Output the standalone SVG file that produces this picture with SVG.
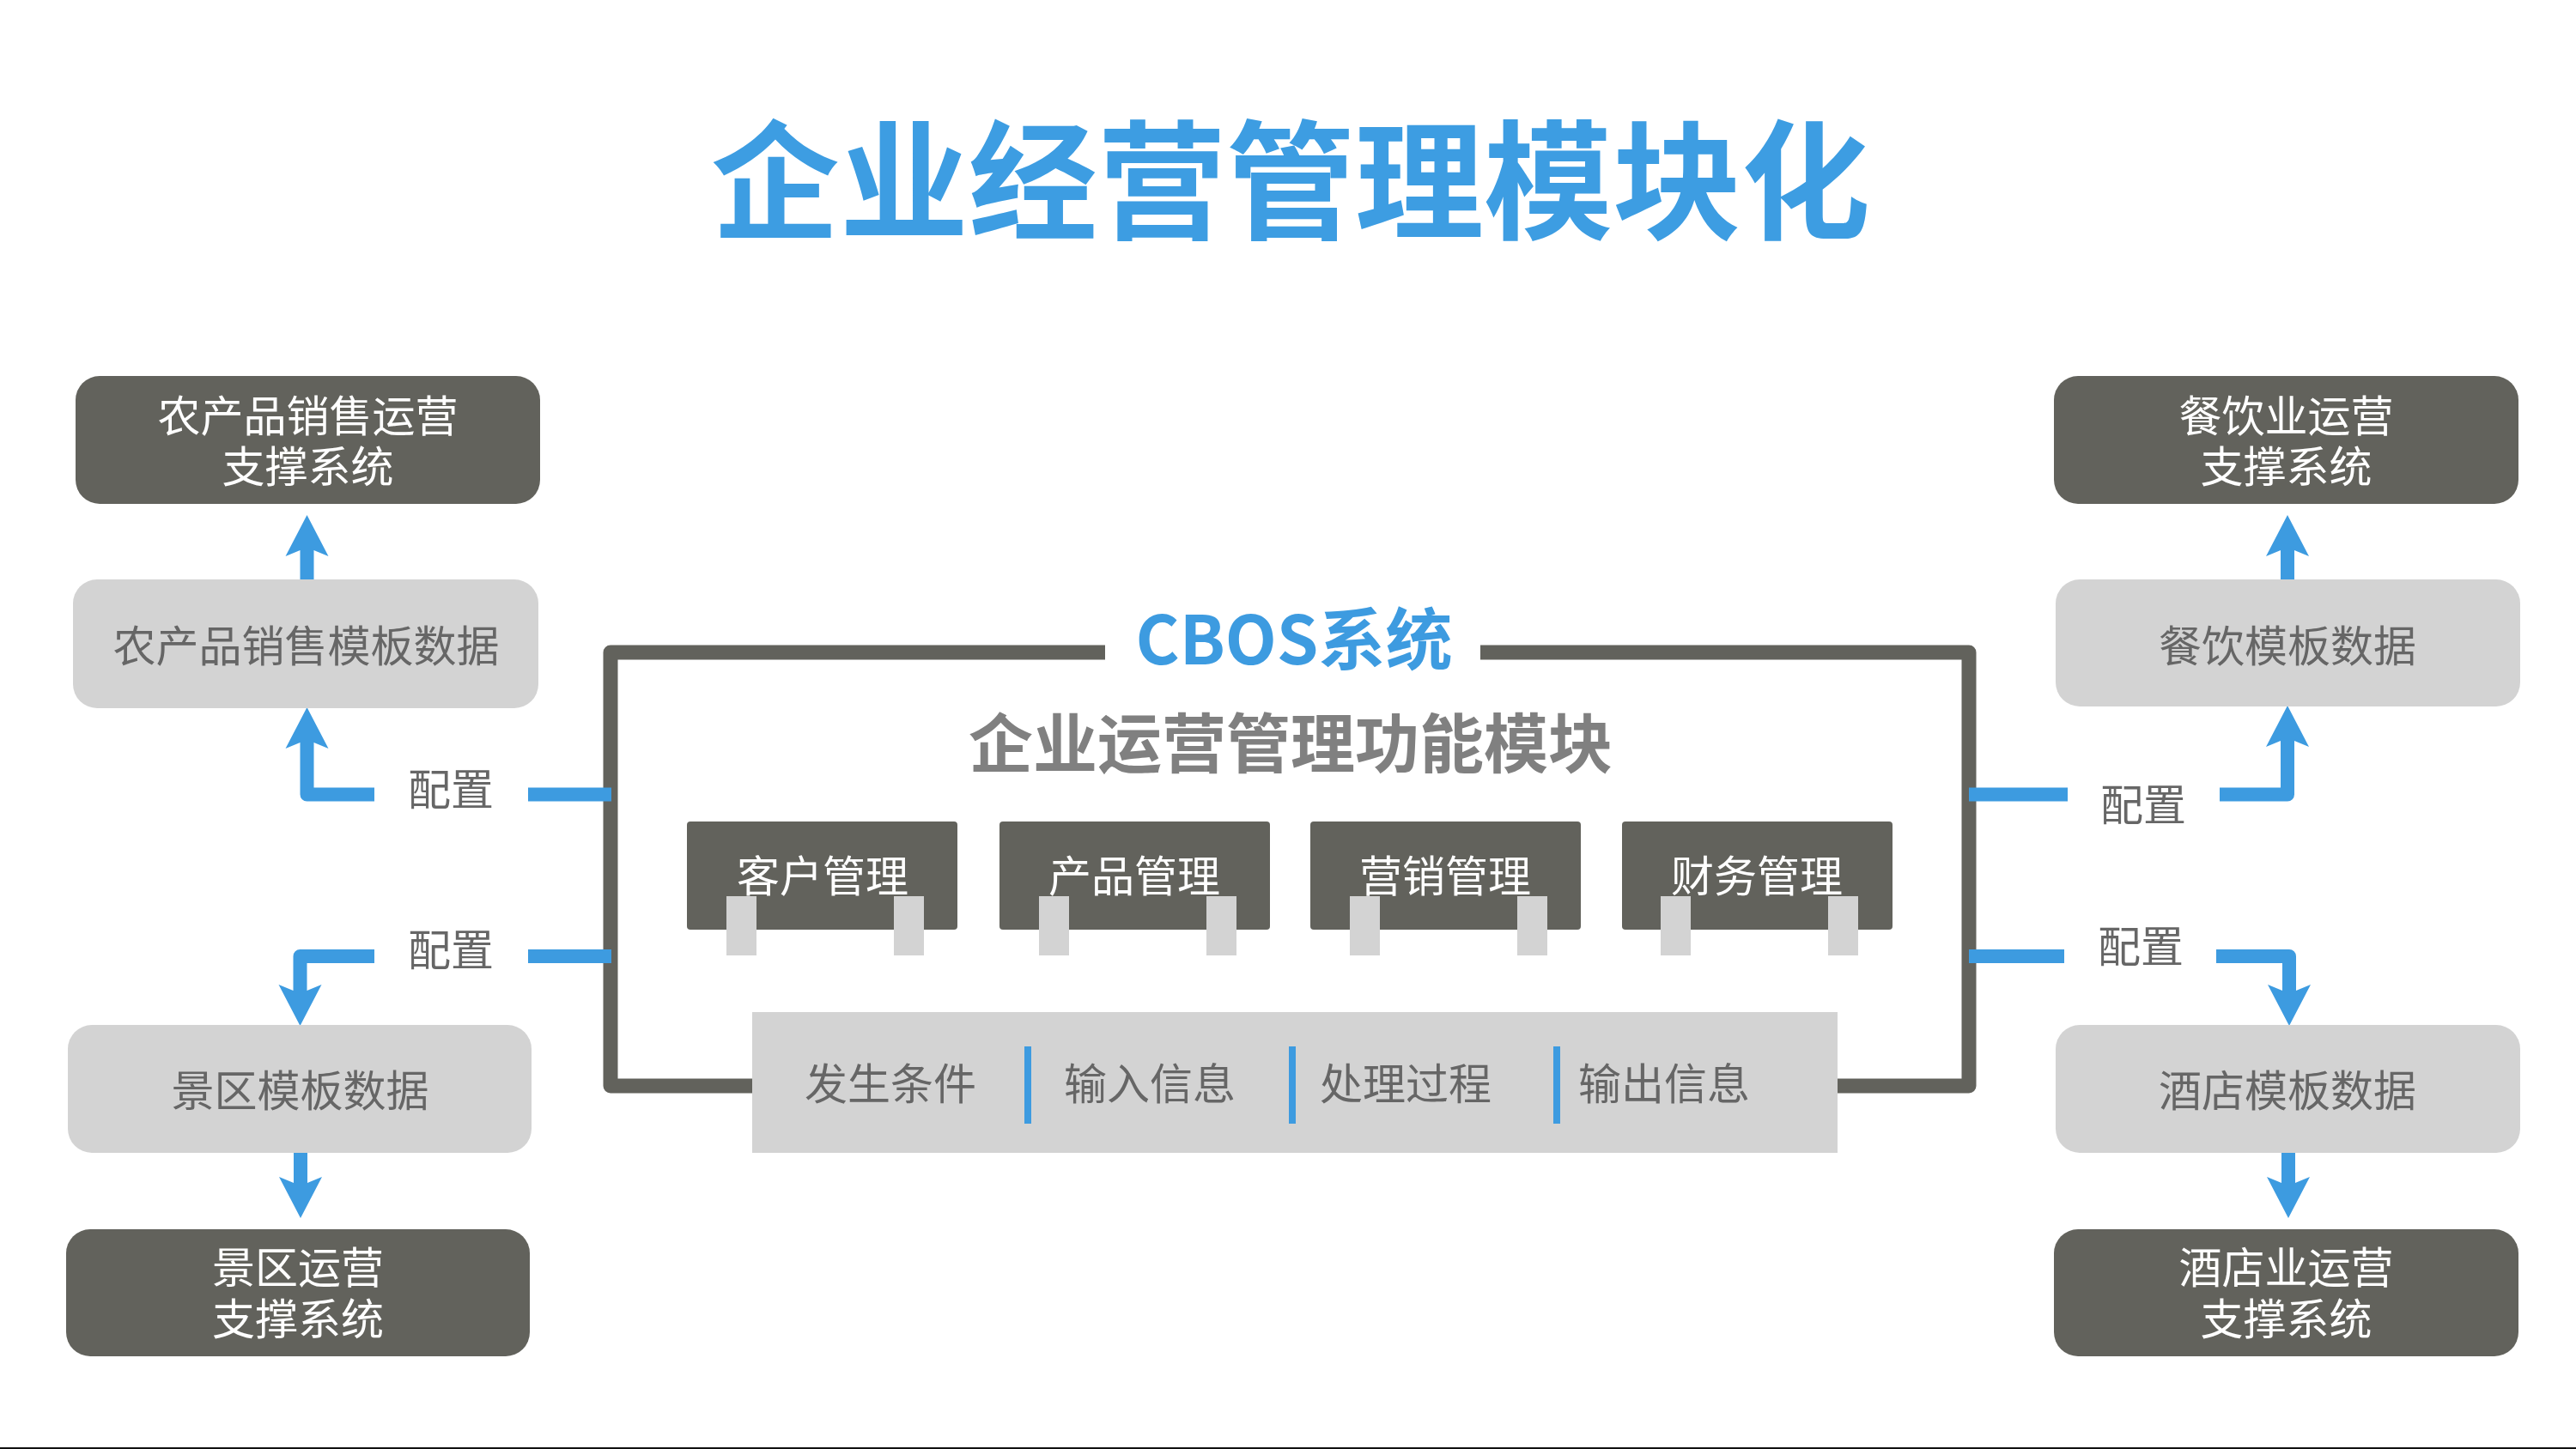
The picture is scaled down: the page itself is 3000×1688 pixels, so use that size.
<svg xmlns="http://www.w3.org/2000/svg" xmlns:xlink="http://www.w3.org/1999/xlink" width="3000" height="1688" viewBox="0 0 3000 1688">
<style>
text{font-family:"Noto Sans CJK SC","Noto Sans",sans-serif;text-anchor:middle}
.dark{fill:#62625c}
.light{fill:#d3d3d3}
.wt{fill:#ffffff;font-size:50px}
.gt{fill:#666666;font-size:50px}
.frame{fill:none;stroke:#62625c;stroke-width:17;stroke-linejoin:round}
.conn{fill:none;stroke:#3d9be0;stroke-width:16;stroke-linejoin:round}
.head{fill:#3d9be0}
.sep{fill:#3d9be0}
</style>
<defs>
<path id="ah" d="M0,0 L25,48 L8,41 L-8,41 L-25,48 Z"/>
</defs>
<rect width="3000" height="1688" fill="#ffffff"/>
<text x="1503" y="267" style="font-size:150px;font-weight:bold;fill:#3d9de2">企业经营管理模块化</text>

<g id="frame">
<path class="frame" d="M1287,760 H711 V1265 H876"/>
<path class="frame" d="M1724,760 H2293 V1265 H2140"/>
<text x="1507" y="774" style="font-size:78px;font-weight:bold;fill:#3d9be0">CBOS系统</text>
<text x="1503" y="894" style="font-size:75px;font-weight:bold;fill:#808080">企业运营管理功能模块</text>
</g>

<g id="connectors">
<path class="conn" d="M615,925.5 H712"/>
<path class="conn" d="M615,1114 H712"/>
<path class="conn" d="M2293,925.5 H2408"/>
<path class="conn" d="M2293,1114 H2404"/>
<path class="conn" d="M357.5,676 V640"/>
<use xlink:href="#ah" class="head" transform="translate(357.5,600)"/>
<path class="conn" d="M436,925.5 H357.5 V862"/>
<use xlink:href="#ah" class="head" transform="translate(357.5,824)"/>
<path class="conn" d="M436,1114 H349.5 V1156"/>
<use xlink:href="#ah" class="head" transform="translate(349.5,1195) rotate(180)"/>
<path class="conn" d="M350,1342 V1380"/>
<use xlink:href="#ah" class="head" transform="translate(350,1419) rotate(180)"/>
<path class="conn" d="M2664,676 V640"/>
<use xlink:href="#ah" class="head" transform="translate(2664,600)"/>
<path class="conn" d="M2585,925.5 H2664 V862"/>
<use xlink:href="#ah" class="head" transform="translate(2664,822)"/>
<path class="conn" d="M2581,1114 H2666 V1156"/>
<use xlink:href="#ah" class="head" transform="translate(2666,1195) rotate(180)"/>
<path class="conn" d="M2665,1342 V1380"/>
<use xlink:href="#ah" class="head" transform="translate(2665,1419) rotate(180)"/>
<text class="gt" x="525" y="938">配置</text>
<text class="gt" x="525" y="1125">配置</text>
<text class="gt" x="2496" y="956">配置</text>
<text class="gt" x="2493" y="1121">配置</text>
</g>

<g id="n-agri-sys">
<rect class="dark" x="88" y="438" width="541" height="149" rx="28"/>
<text class="wt" x="358.5" y="503">农产品销售运营<tspan x="358.5" dy="59">支撑系统</tspan></text>
</g>
<g id="n-agri-tpl">
<rect class="light" x="85" y="675" width="542" height="150" rx="28"/>
<text class="gt" x="356.5" y="771">农产品销售模板数据</text>
</g>
<g id="n-scenic-tpl">
<rect class="light" x="79" y="1194" width="540" height="149" rx="28"/>
<text class="gt" x="349.5" y="1289">景区模板数据</text>
</g>
<g id="n-scenic-sys">
<rect class="dark" x="77" y="1432" width="540" height="148" rx="28"/>
<text class="wt" x="347" y="1495">景区运营<tspan x="347" dy="60">支撑系统</tspan></text>
</g>
<g id="n-food-sys">
<rect class="dark" x="2392" y="438" width="541" height="149" rx="28"/>
<text class="wt" x="2662.5" y="503">餐饮业运营<tspan x="2662.5" dy="59">支撑系统</tspan></text>
</g>
<g id="n-food-tpl">
<rect class="light" x="2394" y="675" width="541" height="148" rx="28"/>
<text class="gt" x="2664" y="771">餐饮模板数据</text>
</g>
<g id="n-hotel-tpl">
<rect class="light" x="2394" y="1194" width="541" height="149" rx="28"/>
<text class="gt" x="2664" y="1289">酒店模板数据</text>
</g>
<g id="n-hotel-sys">
<rect class="dark" x="2392" y="1432" width="541" height="148" rx="28"/>
<text class="wt" x="2662.5" y="1495">酒店业运营<tspan x="2662.5" dy="60">支撑系统</tspan></text>
</g>

<g id="m-customer">
<rect class="dark" x="800" y="957" width="315" height="126" rx="4"/>
<text class="wt" x="958" y="1039">客户管理</text>
<rect class="light" x="846" y="1044" width="35" height="69"/>
<rect class="light" x="1041" y="1044" width="35" height="69"/>
</g>
<g id="m-product">
<rect class="dark" x="1164" y="957" width="315" height="126" rx="4"/>
<text class="wt" x="1321" y="1039">产品管理</text>
<rect class="light" x="1210" y="1044" width="35" height="69"/>
<rect class="light" x="1405" y="1044" width="35" height="69"/>
</g>
<g id="m-marketing">
<rect class="dark" x="1526" y="957" width="315" height="126" rx="4"/>
<text class="wt" x="1683" y="1039">营销管理</text>
<rect class="light" x="1572" y="1044" width="35" height="69"/>
<rect class="light" x="1767" y="1044" width="35" height="69"/>
</g>
<g id="m-finance">
<rect class="dark" x="1889" y="957" width="315" height="126" rx="4"/>
<text class="wt" x="2046" y="1039">财务管理</text>
<rect class="light" x="1934" y="1044" width="35" height="69"/>
<rect class="light" x="2129" y="1044" width="35" height="69"/>
</g>

<g id="process-bar">
<rect class="light" x="876" y="1179" width="1264" height="164"/>
<rect class="sep" x="1193" y="1219" width="8" height="90"/>
<rect class="sep" x="1501" y="1219" width="8" height="90"/>
<rect class="sep" x="1809" y="1219" width="8" height="90"/>
<text class="gt" x="1037" y="1281">发生条件</text>
<text class="gt" x="1339" y="1281">输入信息</text>
<text class="gt" x="1637" y="1281">处理过程</text>
<text class="gt" x="1938" y="1281">输出信息</text>
</g>

<rect x="0" y="1686" width="3000" height="2" fill="#111111"/>
</svg>
